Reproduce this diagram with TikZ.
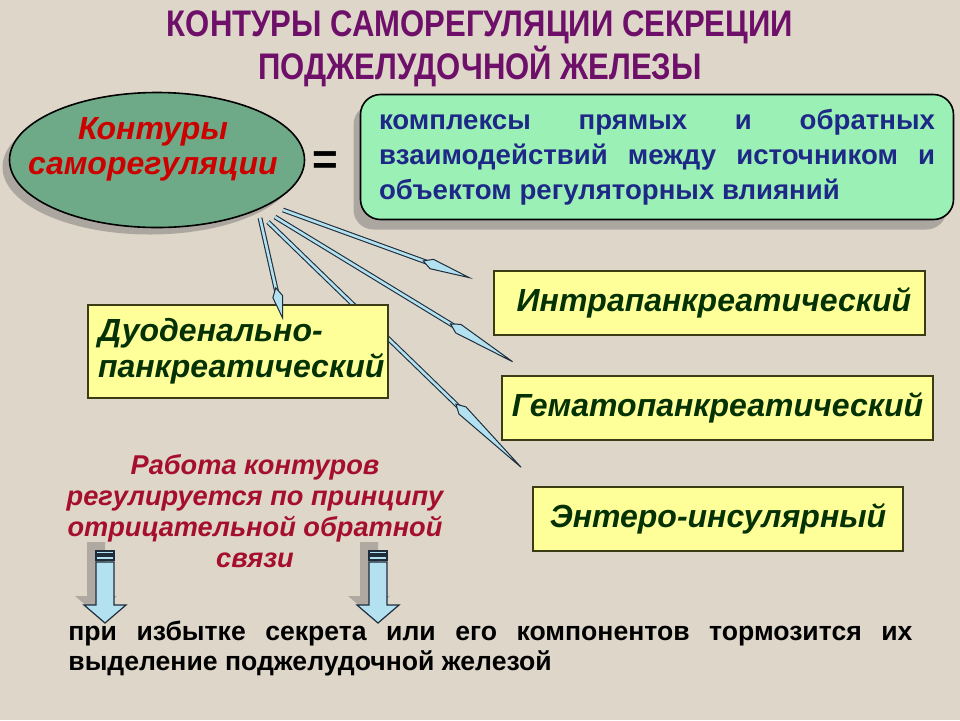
\documentclass[tikz,border=0pt]{standalone}
\usepackage{fontspec}
\setmainfont{Liberation Sans}
\newfontfamily\narrowfont[FakeStretch=0.84]{Liberation Sans}
\usetikzlibrary{arrows.meta,shapes.geometric,shadows}

\definecolor{stone}{RGB}{221,214,201}
\definecolor{titlepurple}{RGB}{110,15,105}
\definecolor{ellgreen}{RGB}{110,170,135}
\definecolor{ellred}{RGB}{205,0,0}
\definecolor{mint}{RGB}{155,240,182}
\definecolor{navy}{RGB}{30,40,135}
\definecolor{boxyellow}{RGB}{255,255,153}
\definecolor{boxline}{RGB}{60,60,20}
\definecolor{boxtext}{RGB}{5,50,5}
\definecolor{spokefill}{RGB}{180,225,240}
\definecolor{spokeline}{RGB}{30,45,60}
\definecolor{crimson}{RGB}{165,15,45}
\definecolor{shadowgray}{RGB}{160,155,150}

\begin{document}
\begin{tikzpicture}[x=0.5pt,y=-0.5pt,
  box/.style={draw=boxline, fill=boxyellow, line width=0.8pt, text=boxtext,
    font=\bfseries\itshape\fontsize{16}{18}\selectfont},
  spoke/.style={draw=spokeline, double=spokefill, double distance=1.3pt, line width=0.55pt,
    -{Kite[length=#1, width=5.5pt, inset=5pt, fill=spokefill, color=spokeline, line width=0.5pt]}},
  blockarr/.style={draw=spokeline, fill=spokefill, line width=0.6pt}]

\useasboundingbox (0,0) rectangle (960,720);
\fill[stone] (0,0) rectangle (960,720);

% title
\node[text=titlepurple, align=center, font=\narrowfont\bfseries\fontsize{18.5}{18}\selectfont]
  (title) at (480,49) {КОНТУРЫ САМОРЕГУЛЯЦИИ СЕКРЕЦИИ\\ПОДЖЕЛУДОЧНОЙ ЖЕЛЕЗЫ};

% ellipse and definition
\node[ellipse, draw=black, line width=0.8pt, fill=ellgreen, minimum width=147.5pt, minimum height=67.5pt,
  drop shadow={shadow xshift=-3.5pt, shadow yshift=-3.5pt, fill=shadowgray, opacity=.8}] (ell) at (157,160) {};
\node[text=ellred, align=center, font=\bfseries\itshape\fontsize{16}{17.5}\selectfont]
  (elltext) at (153,149) {Контуры\\саморегуляции};
\node[font=\bfseries\fontsize{22}{22}\selectfont] (eq) at (325,163) {=};

\node[draw=black, line width=0.8pt, fill=mint, rounded corners=10pt, minimum width=296.5pt, minimum height=62.5pt,
  text width=278pt, align=justify, text=navy, font=\bfseries\fontsize{13.8}{17.5}\selectfont,
  drop shadow={shadow xshift=-3.5pt, shadow yshift=-5pt, fill=shadowgray, opacity=.8}]
  (defbox) at (657,157) {комплексы прямых и обратных\linebreak взаимодействий между источником и\linebreak объектом регуляторных влияний};

% spokes
\coordinate (s1) at (260,218); \coordinate (t1) at (283,320);
\coordinate (s2) at (268,222); \coordinate (t2) at (527,473);
\coordinate (s3) at (275,217); \coordinate (t3) at (518,365);
\coordinate (s4) at (283,210); \coordinate (t4) at (473,279);
\draw[spoke=50pt] (s2) -- (t2);
\draw[spoke=40pt] (s3) -- (t3);
\draw[spoke=27pt] (s4) -- (t4);

% contour types
\node[box, minimum width=150pt, minimum height=46.5pt, text width=140pt, align=left, inner xsep=5pt]
  (duod) at (238,351.5) {Дуоденально-\\панкреатический};
\node[box, minimum width=215.5pt, minimum height=32pt] (intra) at (709.5,303) {\ Интрапанкреатический};
\node[box, minimum width=215.5pt, minimum height=32pt] (hemato) at (717.5,408) {Гематопанкреатический};
\node[box, minimum width=185pt, minimum height=32pt] (entero) at (718,519) {Энтеро-инсулярный};
\draw[spoke=17pt] (s1) -- (t1);

% feedback note
\node[text=crimson, align=center, font=\bfseries\itshape\fontsize{13.6}{15.5}\selectfont]
  (rule) at (255,511) {Работа контуров\\регулируется по принципу\\отрицательной обратной\\связи};

\foreach \cx in {105,378} {
  \fill[shadowgray, opacity=.75] ({\cx-18},542) -- ({\cx},542) -- ({\cx},596) -- ({\cx+12},596)
    -- ({\cx-9},614) -- ({\cx-30},596) -- ({\cx-18},596) -- cycle;
  \draw[blockarr] ({\cx-9},551) rectangle ({\cx+9},554);
  \draw[blockarr] ({\cx-9},556) rectangle ({\cx+9},560);
  \draw[blockarr] ({\cx-9},562) -- ({\cx+9},562) -- ({\cx+9},605) -- ({\cx+21},605)
    -- ({\cx},623) -- ({\cx-21},605) -- ({\cx-9},605) -- cycle;
}

\node[anchor=north west, inner sep=0pt, text width=422pt, align=justify,
  font=\bfseries\fontsize{13.3}{15}\selectfont]
  (note) at (68,621) {при избытке секрета или его компонентов тормозится их выделение поджелудочной железой};

\end{tikzpicture}
\end{document}
